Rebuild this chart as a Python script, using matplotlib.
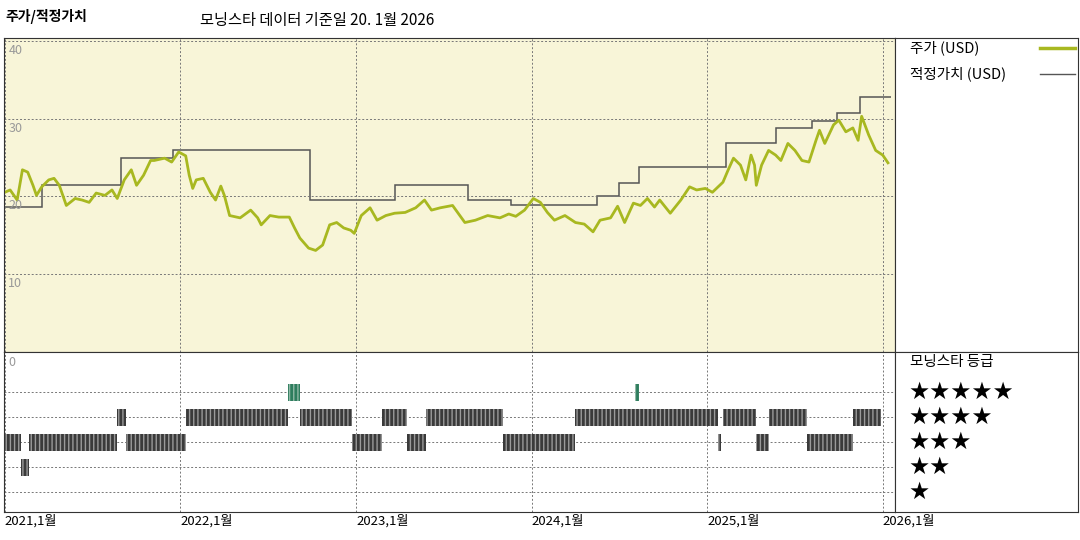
import matplotlib
matplotlib.use("Agg")
import matplotlib.pyplot as plt

plt.rcParams['font.family'] = ['Noto Sans CJK KR', 'DejaVu Sans']

# years since 2021-01
price_t = [0, .03, .07, .10, .13, .16, .18, .21, .25, .28, .31, .35, .40, .44, .48, .52, .57, .61, .64,
           .68, .72, .75, .79, .83, .85, .91, .95, .99, 1.03, 1.05, 1.07, 1.09, 1.13, 1.17, 1.20, 1.23,
           1.25, 1.28, 1.34, 1.40, 1.44, 1.46, 1.51, 1.56, 1.58, 1.62, 1.65, 1.68, 1.73, 1.77, 1.81,
           1.85, 1.89, 1.93, 1.97, 1.99, 2.03, 2.08, 2.12, 2.17, 2.22, 2.28, 2.34, 2.39, 2.43, 2.48,
           2.55, 2.62, 2.68, 2.75, 2.82, 2.87, 2.91, 2.96, 3.01, 3.05, 3.09, 3.13, 3.19, 3.25, 3.30,
           3.35, 3.39, 3.45, 3.49, 3.53, 3.58, 3.62, 3.66, 3.70, 3.73, 3.79, 3.85, 3.90, 3.94, 3.99,
           4.03, 4.09, 4.12, 4.15, 4.19, 4.22, 4.25, 4.27, 4.28, 4.31, 4.35, 4.39, 4.42, 4.46, 4.50,
           4.54, 4.58, 4.62, 4.64, 4.67, 4.72, 4.75, 4.79, 4.83, 4.86, 4.88, 4.92, 4.96, 5.00, 5.03]
price = [20.5, 20.8, 19.5, 23.4, 23.1, 21.4, 20.1, 21.2, 22.1, 22.3, 21.4, 18.8, 19.7, 19.5, 19.2, 20.4,
         20.1, 20.8, 19.7, 22.1, 23.4, 21.4, 22.7, 24.6, 24.6, 24.9, 24.4, 25.7, 25.2, 22.7, 21.0, 22.1,
         22.3, 20.5, 19.5, 21.3, 20.1, 17.5, 17.2, 18.2, 17.2, 16.3, 17.5, 17.3, 17.3, 17.3, 15.9, 14.6,
         13.3, 13.0, 13.7, 16.3, 16.6, 15.9, 15.6, 15.2, 17.5, 18.5, 16.9, 17.5, 17.8, 17.9, 18.5, 19.5,
         18.2, 18.5, 18.8, 16.6, 16.9, 17.5, 17.2, 17.7, 17.4, 18.2, 19.7, 19.2, 17.9, 16.9, 17.5, 16.6,
         16.4, 15.4, 16.9, 17.2, 18.7, 16.6, 19.1, 18.8, 19.7, 18.6, 19.5, 17.8, 19.5, 21.2, 20.8, 21.0,
         20.5, 21.8, 23.4, 24.9, 24.0, 22.1, 25.3, 24.0, 21.4, 24.0, 25.9, 25.3, 24.6, 26.8, 25.9, 24.6,
         24.4, 27.2, 28.5, 26.8, 29.2, 29.8, 28.3, 28.8, 27.2, 30.3, 27.9, 25.9, 25.3, 24.3]

fair_edges = [0, .21, .66, .96, 1.74, 2.22, 2.64, 2.88, 3.37, 3.50, 3.61, 4.11, 4.39, 4.60, 4.74, 4.87, 5.05]
fair_value = [18.6, 21.5, 24.9, 25.9, 19.5, 21.4, 19.5, 18.8, 20.0, 21.7, 23.7, 26.8, 28.8, 29.7, 30.7, 32.8]

# (start, end, stars)
rating_spans = [
    (0, .09, 3), (.09, .14, 2), (.14, .64, 3), (.64, .69, 4), (.69, 1.03, 3), (1.03, 1.61, 4),
    (1.61, 1.68, 5), (1.68, 1.98, 4), (1.98, 2.15, 3), (2.15, 2.29, 4), (2.29, 2.40, 3),
    (2.40, 2.84, 4), (2.84, 3.25, 3), (3.25, 4.06, 4), (3.59, 3.61, 5), (4.06, 4.08, 3),
    (4.09, 4.28, 4), (4.28, 4.35, 3), (4.35, 4.57, 4), (4.57, 4.83, 3), (4.83, 4.99, 4),
]
year_labels = ["2021,1월", "2022,1월", "2023,1월", "2024,1월", "2025,1월", "2026,1월"]

W, H = 1080, 540
fig = plt.figure(figsize=(10.8, 5.4), dpi=100)


def rect(l, t, r, b):
    return [l / W, 1 - b / H, (r - l) / W, (b - t) / H]


xlim = (-0.005, 5.07)
grid_kw = dict(color="#777777", lw=0.7, ls=(0, (2, 2)))

ax = fig.add_axes(rect(4, 38, 895, 352))
ax.set_facecolor("#f8f5d8")
ax.set_xlim(*xlim)
ax.set_ylim(-0.1, 40.4)
for yv in [10, 20, 30, 40]:
    ax.axhline(yv, **grid_kw)
    ax.text(0.02, yv - 0.4, str(yv), color="#999999", fontsize=9, va="top")
for xv in range(6):
    ax.axvline(xv, **grid_kw)
ax.stairs(fair_value, fair_edges, color="#555555", lw=1.1, baseline=None)
ax.plot(price_t, price, color="#a8b820", lw=2.0)
ax.set_xticks([])
ax.set_yticks([])
for s in ax.spines.values():
    s.set_color("#333333")

ax2 = fig.add_axes(rect(4, 352, 895, 512))
ax2.set_xlim(*xlim)
ax2.set_ylim(0.2, 6.6)
for yv in range(1, 6):
    ax2.axhline(yv, **grid_kw)
for xv in range(6):
    ax2.axvline(xv, **grid_kw)
ax2.text(0.02, 6.45, "0", color="#999999", fontsize=9, va="top")
for start, end, stars in rating_spans:
    green = stars == 5
    ax2.bar(start, 0.68, width=end - start, bottom=stars - 0.34, align="edge",
            color="#2e7d5e" if green else "#3a3a3a",
            edgecolor="#8fb8a5" if green else "#9a9a9a", hatch="||||", lw=0, zorder=3)
ax2.set_xticks(range(6))
ax2.set_xticklabels(year_labels, fontsize=9.5)
ax2.tick_params(length=0, pad=2)
for lab in ax2.get_xticklabels():
    lab.set_horizontalalignment("left")
ax2.set_yticks([])
for s in ax2.spines.values():
    s.set_color("#333333")

# legend panels on the right
for top, bot in [(38, 352), (352, 512)]:
    lg = fig.add_axes(rect(895, top, 1078, bot))
    lg.set_xticks([])
    lg.set_yticks([])
    for s in lg.spines.values():
        s.set_color("#333333")

fig.text(910 / W, 1 - 48 / H, "주가 (USD)", fontsize=10.5, va="center")
fig.add_artist(plt.Line2D([1040 / W, 1075 / W], [1 - 48 / H] * 2, color="#a8b820", lw=2.5))
fig.text(910 / W, 1 - 74 / H, "적정가치 (USD)", fontsize=10.5, va="center")
fig.add_artist(plt.Line2D([1040 / W, 1075 / W], [1 - 74 / H] * 2, color="#555555", lw=1))
fig.text(910 / W, 1 - 362 / H, "모닝스타 등급", fontsize=10.5, va="center")
for i, n in enumerate([5, 4, 3, 2, 1]):
    fig.text(908 / W, 1 - (392 + 25 * i) / H, "★" * n, fontsize=17, va="center",
             family="DejaVu Sans")

fig.text(5 / W, 1 - 17 / H, "주가/적정가치", fontsize=10, weight="bold", va="center")
fig.text(200 / W, 1 - 20 / H, "모닝스타 데이터 기준일 20. 1월 2026", fontsize=11, va="center")

fig.savefig("out.png", dpi=100)
